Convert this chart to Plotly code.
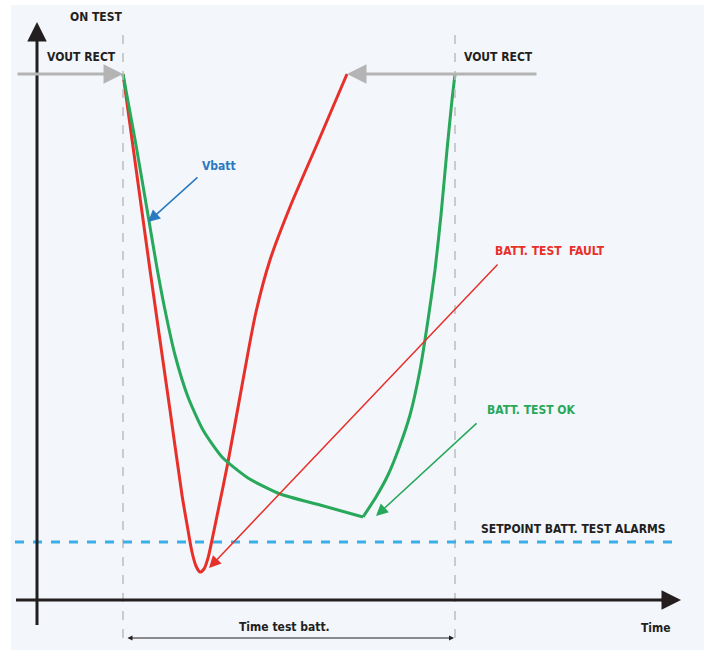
import plotly.graph_objects as go

# ---------------- data (time units on x, depth units on y: 0 at top) ----------------
green_left_t = [123, 136, 148, 157, 165, 175, 188, 203, 222, 248, 280, 320, 363]
green_left_v = [74, 145, 215, 268, 310, 355, 397, 430, 457, 478, 494, 505, 517]
green_right_t = [363, 376, 388, 399, 410, 420, 428, 435, 441, 447, 452, 455]
green_right_v = [517, 497, 475, 448, 415, 370, 320, 270, 215, 150, 100, 74]

red_t = [123, 150, 170, 182, 188, 192, 196, 200, 204, 208, 212, 217, 228, 243, 256, 270, 290, 318, 347]
red_v = [74, 270, 410, 495, 530, 552, 566, 572, 569, 558, 540, 516, 462, 380, 312, 260, 207, 142, 74]

setpoint_v = 542
vout_v = 74
test_start_t = 123
test_end_t = 455

RED = "#e8302a"
GREEN = "#27a85a"
BLUE = "#2a79c2"
SETBLUE = "#3aaee8"
GRAY = "#b4b4b4"
DARK = "#231f20"
FONT = "DejaVu Sans Condensed, DejaVu Sans, sans-serif"

fig = go.Figure()

# background panel
fig.add_shape(type="rect", x0=11, x1=704, y0=5, y1=650, xref="x", yref="y",
              fillcolor="#f3f6fa", line_width=0, layer="below")

# dashed vertical markers
for t in (test_start_t, test_end_t):
    fig.add_shape(type="line", x0=t, x1=t, y0=35, y1=641, xref="x", yref="y",
                  line=dict(color="#bdbdbd", width=1.5, dash="dash"))

# setpoint line
fig.add_shape(type="line", x0=15, x1=681, y0=setpoint_v, y1=setpoint_v, xref="x", yref="y",
              line=dict(color=SETBLUE, width=3, dash="dash"))

# axes lines
fig.add_shape(type="line", x0=37, x1=37, y0=625, y1=34, line=dict(color=DARK, width=3))
fig.add_shape(type="line", x0=16, x1=668, y0=600, y1=600, line=dict(color=DARK, width=3))

# curves
fig.add_trace(go.Scatter(x=red_t, y=red_v, mode="lines",
                         line=dict(color=RED, width=3, shape="spline", smoothing=0.8),
                         hoverinfo="skip"))
fig.add_trace(go.Scatter(x=green_left_t, y=green_left_v, mode="lines",
                         line=dict(color=GREEN, width=3, shape="spline", smoothing=0.6),
                         hoverinfo="skip"))
fig.add_trace(go.Scatter(x=green_right_t, y=green_right_v, mode="lines",
                         line=dict(color=GREEN, width=3, shape="spline", smoothing=0.6),
                         hoverinfo="skip"))

ann = []
def arrow(x0, y0, x1, y1, color, width, head=2, size=1.0, side="end"):
    ann.append(dict(x=x1, y=y1, ax=x0, ay=y0, xref="x", yref="y", axref="x", ayref="y",
                    text="", showarrow=True, arrowcolor=color, arrowwidth=width,
                    arrowhead=head, arrowsize=size, arrowside=side,
                    startarrowhead=head, startarrowsize=size))

def label(x, y, text, color=DARK, size=12):
    ann.append(dict(x=x, y=y, xref="x", yref="y", text=text, showarrow=False,
                    font=dict(family=FONT, size=size, color=color, weight="bold"),
                    xanchor="center", yanchor="middle"))

# axis arrowheads
arrow(37, 40, 37, 22, DARK, 3, head=2, size=1.3)
arrow(660, 600, 681, 600, DARK, 3, head=2, size=1.3)

# VOUT RECT gray arrows
arrow(16, vout_v, test_start_t, vout_v, GRAY, 3, head=2, size=1.3)
arrow(538, vout_v, 347, vout_v, GRAY, 3, head=2, size=1.3)

# annotation pointers
arrow(199, 176, 148, 222, BLUE, 1.5, head=2, size=1.6)
arrow(499, 263, 209, 568, RED, 1.5, head=2, size=1.6)
arrow(478, 422, 376, 516, GREEN, 1.5, head=2, size=1.6)

# time test batt double arrow
arrow(126, 638, 454, 638, DARK, 1, head=2, size=1.0, side="end+start")

# labels
label(96, 17, "ON TEST")
label(81, 57, "VOUT RECT")
label(498, 57, "VOUT RECT")
label(219, 166, "Vbatt", BLUE)
label(550, 251, "BATT. TEST&nbsp;&nbsp;FAULT", RED)
label(531, 410, "BATT. TEST OK", GREEN)
label(573, 529, "SETPOINT BATT. TEST ALARMS")
label(656, 628, "Time")
label(284, 627, "Time test batt.")

fig.update_layout(
    width=704, height=653,
    margin=dict(l=0, r=0, t=0, b=0),
    paper_bgcolor="white", plot_bgcolor="white",
    showlegend=False,
    annotations=ann,
    xaxis=dict(range=[0, 704], visible=False, fixedrange=True),
    yaxis=dict(range=[653, 0], visible=False, fixedrange=True),
)

fig.write_html("out.html", config={"displayModeBar": False, "staticPlot": True},
               post_script="document.body.style.margin='0px';")
